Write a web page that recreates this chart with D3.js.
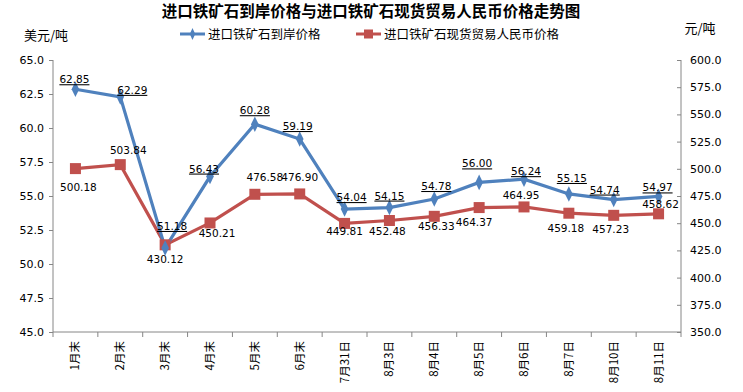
<!DOCTYPE html>
<html><head><meta charset="utf-8">
<script src="https://cdn.jsdelivr.net/npm/d3@7"></script>
<style>body{margin:0;background:#fff;} svg{display:block;}</style>
</head><body>
<svg id="c" width="743" height="392"></svg>
<script>
const categories = ["1月末","2月末","3月末","4月末","5月末","6月末","7月31日","8月3日","8月4日","8月5日","8月6日","8月7日","8月10日","8月11日"];
const usdPrice = [62.85,62.29,51.18,56.43,60.28,59.19,54.04,54.15,54.78,56.00,56.24,55.15,54.74,54.97];
const rmbPrice = [500.18,503.84,430.12,450.21,476.58,476.90,449.81,452.48,456.33,464.37,464.95,459.18,457.23,458.62];
const leftTicks = [45,47.5,50,52.5,55,57.5,60,62.5,65];
const rightTicks = [350,375,400,425,450,475,500,525,550,575,600];
const seriesNames = ["进口铁矿石到岸价格","进口铁矿石现货贸易人民币价格"];
// label placement offsets (dx, dy) relative to point
const usdLabelOff = [[-1,-10],[12,-7],[7,-22],[-6,-8],[0,-14],[-2,-13],[7,-12],[0,-12],[2,-13],[-2,-19],[2,-8],[3,-16],[-9,-10],[-1,-9]];
const rmbLabelOff = [[3,18],[8,-15],[0,14],[7,10],[10,-17],[0,-17],[0,8],[-2,10],[2,10],[-5,14],[-3,-12],[-3,15],[-3,14],[2,-10]];

const svg = d3.select("#c");
const L = 53, R = 681, T = 60, B = 332;
const x = d3.scaleBand().domain(categories).range([L, R]);
const yL = d3.scaleLinear().domain([45,65]).range([B, T]);
const yR = d3.scaleLinear().domain([350,600]).range([B, T]);
const cx = d => x(d) + x.bandwidth()/2;
const numFont = "'DejaVu Sans', Verdana, sans-serif";
const cjk = "'Noto Sans CJK SC', sans-serif";
const blue = "#4F81BD", red = "#C0504D", axisCol = "#868686";

// title
svg.append("text").attr("x", 371).attr("y", 17).attr("text-anchor","middle")
  .attr("font-family", cjk).attr("font-weight","bold").attr("font-size", 15.5).attr("fill","#000")
  .text("进口铁矿石到岸价格与进口铁矿石现货贸易人民币价格走势图");
svg.append("text").attr("x", 46).attr("y", 40).attr("text-anchor","middle")
  .attr("font-family", cjk).attr("font-size", 13).text("美元/吨");
svg.append("text").attr("x", 700).attr("y", 33).attr("text-anchor","middle")
  .attr("font-family", cjk).attr("font-size", 13).text("元/吨");

// legend
const lg = svg.append("g");
[[180, blue, "d"], [356, red, "s"]].forEach(([lx, col, m], i) => {
  lg.append("line").attr("x1", lx).attr("x2", lx+25).attr("y1", 34).attr("y2", 34)
    .attr("stroke", col).attr("stroke-width", 3);
  if (m === "d") lg.append("path").attr("d", d3.symbol(d3.symbolDiamond, 40)()).attr("transform", `translate(${lx+12.5},34) scale(0.8,1)`).attr("fill", col);
  else lg.append("rect").attr("x", lx+8).attr("y", 29.5).attr("width", 9).attr("height", 9).attr("fill", col);
  lg.append("text").attr("x", lx+28).attr("y", 38.5).attr("font-family", cjk).attr("font-size", 12.5).text(seriesNames[i]);
});

// axes
const axL = svg.append("g").attr("transform", `translate(${L},0)`)
  .call(d3.axisLeft(yL).tickValues(leftTicks).tickFormat(d3.format(".1f")).tickSize(4).tickPadding(5));
const axR = svg.append("g").attr("transform", `translate(${R},0)`)
  .call(d3.axisRight(yR).tickValues(rightTicks).tickFormat(d3.format(".1f")).tickSizeInner(-4).tickSizeOuter(0).tickPadding(9));
[axL, axR].forEach(a => {
  a.select(".domain").attr("stroke", axisCol).attr("d", `M${0},${T}V${B}`);
  a.selectAll(".tick line").attr("stroke", axisCol);
  a.selectAll("text").attr("font-family", numFont).attr("font-size", 11).attr("fill","#000");
});
// bottom axis
svg.append("line").attr("x1", L).attr("x2", R).attr("y1", B).attr("y2", B).attr("stroke", axisCol);
const bounds = categories.map(c => x(c)).concat([R]);
svg.selectAll(".xt").data(bounds).enter().append("line")
  .attr("x1", d=>d).attr("x2", d=>d).attr("y1", B).attr("y2", B+5).attr("stroke", axisCol);
svg.selectAll(".xl").data(categories).enter().append("text")
  .attr("transform", d => `translate(${cx(d)+4},${B+9}) rotate(-90)`)
  .attr("text-anchor","end").attr("font-family", cjk).attr("font-size", 11.5).text(d=>d);

// lines
const lineL = d3.line().x((d,i)=>cx(categories[i])).y(d=>yL(d));
const lineR = d3.line().x((d,i)=>cx(categories[i])).y(d=>yR(d));
svg.append("path").datum(rmbPrice).attr("d", lineR).attr("fill","none").attr("stroke", red).attr("stroke-width", 3.2);
svg.append("path").datum(usdPrice).attr("d", lineL).attr("fill","none").attr("stroke", blue).attr("stroke-width", 3.2);
svg.selectAll(".rm").data(rmbPrice).enter().append("rect")
  .attr("x",(d,i)=>cx(categories[i])-5.5).attr("y", d=>yR(d)-5.5).attr("width",11).attr("height",11).attr("fill", red);
svg.selectAll(".bm").data(usdPrice).enter().append("path")
  .attr("d", d3.symbol(d3.symbolDiamond, 70)())
  .attr("transform",(d,i)=>`translate(${cx(categories[i])},${yL(d)}) scale(0.85,1)`).attr("fill", blue);

// labels
usdPrice.forEach((v,i) => {
  svg.append("text").attr("x", cx(categories[i]) + usdLabelOff[i][0]).attr("y", yL(v) + usdLabelOff[i][1] + 4)
    .attr("text-anchor","middle").attr("font-family", numFont).attr("font-size", 10.5)
    .attr("text-decoration","underline").text(v.toFixed(2));
});
rmbPrice.forEach((v,i) => {
  svg.append("text").attr("x", cx(categories[i]) + rmbLabelOff[i][0]).attr("y", yR(v) + rmbLabelOff[i][1] + 4)
    .attr("text-anchor","middle").attr("font-family", numFont).attr("font-size", 10.5)
    .text(v.toFixed(2));
});
</script>
</body></html>
